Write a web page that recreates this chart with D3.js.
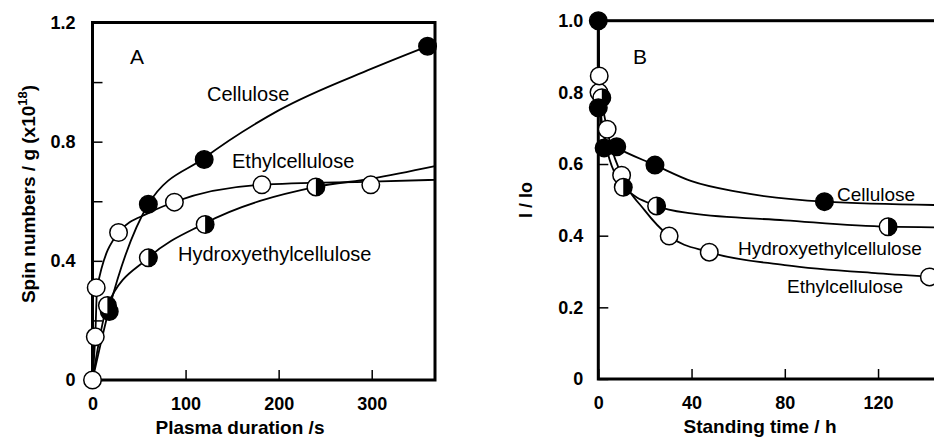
<!DOCTYPE html>
<html lang="en">
<head>
<meta charset="UTF-8">
<script src="https://d3js.org/d3.v7.min.js"></script>
<title>Spin numbers and I/Io</title>
<style>
    body { margin: 0; background: white; }
    svg { display: block; font-family: "Liberation Sans", Arial, Helvetica, sans-serif; }
    .tick text { font-size: 18px; font-weight: bold; fill: black; }
    .tick line { stroke: black; stroke-width: 1.5px; }
    .title { font-size: 19px; font-weight: bold; }
    .curve-label { font-size: 20px; }
</style>
</head>
<body>
<div id="chart"></div>
<script>
    /*------------------- Data -------------------------------------------*/
    // Panel A: spin numbers vs plasma duration (s)
    const aCellulose = [[18, 0.23], [60, 0.59], [120, 0.74], [360, 1.12]];
    const aHydroxy = [[16, 0.25], [60, 0.41], [121, 0.522], [240, 0.648]];
    const aEthyl = [[0, 0], [3, 0.145], [4, 0.31], [28, 0.495], [88, 0.597], [182, 0.655], [299, 0.655]];
    // fitted curves in panel A
    const aCelluloseFit = [[0, 0], [18, 0.24], [60, 0.59], [120, 0.745], [200, 0.905], [300, 1.045], [368, 1.13]];
    const aEthylFit = [[0, 0], [3, 0.15], [5, 0.31], [28, 0.495], [60, 0.56], [90, 0.6], [180, 0.655], [300, 0.666], [368, 0.672]];
    const aHydroxyFit = [[0, 0], [16, 0.25], [60, 0.41], [120, 0.525], [240, 0.648], [300, 0.676], [368, 0.718]];

    // Panel B: I/Io vs standing time (h)
    const bCellulose = [[0, 1.0], [2.5, 0.645], [7.9, 0.648], [24.3, 0.597], [97, 0.495], [0, 0.757]];
    const bHydroxy = [[1.5, 0.785], [10.7, 0.535], [25, 0.483], [124.3, 0.425]];
    const bEthyl = [[0.3, 0.8], [0.4, 0.846], [3.8, 0.697], [10, 0.569], [30.4, 0.399], [47.6, 0.354], [142, 0.285]];
    // fitted curves in panel B
    const bCelluloseFit = [[0, 1.0], [0.3, 0.8], [1.5, 0.7], [4, 0.66], [8, 0.645], [24.3, 0.597], [40, 0.552], [60, 0.522], [97, 0.495], [150, 0.485]];
    const bHydroxyFit = [[0, 1.0], [0.4, 0.8], [3, 0.66], [10.7, 0.54], [25, 0.483], [40, 0.462], [80, 0.443], [124.3, 0.425], [150, 0.423]];
    const bEthylFit = [[0, 1.0], [0.4, 0.846], [3.8, 0.697], [10, 0.569], [20, 0.47], [30.4, 0.399], [47.6, 0.354], [80, 0.318], [120, 0.295], [150, 0.283]];

    // ticks
    const aXTicks = [0, 100, 200, 300];
    const aYTicks = [0, 0.2, 0.4, 0.6, 0.8, 1.0, 1.2];
    const aYLabels = ["0", "", "0.4", "", "0.8", "", "1.2"];
    const bXTicks = [0, 40, 80, 120];
    const bYTicks = [0, 0.2, 0.4, 0.6, 0.8, 1.0];
    const bYLabels = ["0", "0.2", "0.4", "0.6", "0.8", "1.0"];

    /*------------------- Setup --------------------*/
    const width = 934, height = 439;
    const svg = d3.select("#chart").append("svg")
        .attr("width", width)
        .attr("height", height);

    const R = 9.5;
    const halfArc = d3.arc().innerRadius(0).outerRadius(R - 0.5).startAngle(0).endAngle(Math.PI);

    function drawPanel(opt) {
        const g = svg.append("g");
        const x = opt.x, y = opt.y;

        const line = d3.line()
            .x(d => x(d[0]))
            .y(d => y(d[1]))
            .curve(d3.curveMonotoneX);

        // axes with inward ticks
        g.append("g")
            .attr("transform", `translate(0,${y.range()[0]})`)
            .call(d3.axisBottom(x).tickValues(opt.xTicks).tickSize(-10).tickPadding(17))
            .call(a => a.select(".domain").remove());
        g.append("g")
            .attr("transform", `translate(${x.range()[0]},0)`)
            .call(d3.axisLeft(y).tickValues(opt.yTicks).tickSize(-10).tickPadding(opt.yPad)
                .tickFormat((d, i) => opt.yLabels[i]))
            .call(a => a.select(".domain").remove());

        // frame
        g.append("rect")
            .attr("x", x.range()[0])
            .attr("y", y.range()[1])
            .attr("width", x(opt.xFrameMax) - x.range()[0])
            .attr("height", y.range()[0] - y.range()[1])
            .attr("fill", "none")
            .attr("stroke", "black")
            .attr("stroke-width", 3);

        // fitted curves
        g.selectAll("path.fit")
            .data(opt.fits)
            .enter()
            .append("path")
            .attr("class", "fit")
            .attr("d", d => line(d))
            .attr("fill", "none")
            .attr("stroke", "black")
            .attr("stroke-width", 1.8);

        // markers
        opt.series.forEach(s => {
            const m = g.append("g").selectAll("g")
                .data(s.points)
                .enter()
                .append("g")
                .attr("transform", d => `translate(${x(d[0])},${y(d[1])})`);
            m.append("circle")
                .attr("r", R - 0.75)
                .attr("fill", s.type === "filled" ? "black" : "white")
                .attr("stroke", "black")
                .attr("stroke-width", 1.5);
            if (s.type === "half") {
                m.append("path")
                    .attr("d", halfArc())
                    .attr("fill", "black");
            }
        });

        // panel letter
        g.append("text")
            .attr("x", opt.letter[1])
            .attr("y", opt.letter[2])
            .attr("text-anchor", "middle")
            .style("font-size", "21px")
            .text(opt.letter[0]);

        // curve labels
        g.selectAll("text.curve-label")
            .data(opt.labels)
            .enter()
            .append("text")
            .attr("class", "curve-label")
            .attr("x", d => d[1])
            .attr("y", d => d[2])
            .style("font-size", opt.labelSize)
            .text(d => d[0]);

        // x title
        g.append("text")
            .attr("class", "title")
            .attr("x", opt.xTitle[1])
            .attr("y", opt.xTitle[2])
            .attr("text-anchor", "middle")
            .text(opt.xTitle[0]);

        return g;
    }

    /*------------------- Panel A --------------------*/
    const xA = d3.scaleLinear().domain([0, 368]).range([92.5, 435]);
    const yA = d3.scaleLinear().domain([0, 1.2]).range([380, 22.5]);

    drawPanel({
        x: xA, y: yA, xFrameMax: 368,
        xTicks: aXTicks, yTicks: aYTicks, yLabels: aYLabels, yPad: 17,
        fits: [aCelluloseFit, aEthylFit, aHydroxyFit],
        series: [
            { type: "filled", points: aCellulose },
            { type: "half", points: aHydroxy },
            { type: "open", points: aEthyl }
        ],
        letter: ["A", 137, 64],
        labels: [["Cellulose", 207, 101], ["Ethylcellulose", 232, 168], ["Hydroxyethylcellulose", 178, 261]],
        labelSize: "20px",
        xTitle: ["Plasma duration /s", 240, 434]
    });

    const yTitleA = svg.append("text")
        .attr("class", "title")
        .attr("transform", "translate(35,194) rotate(-90)")
        .attr("text-anchor", "middle");
    yTitleA.append("tspan").text("Spin numbers / g (x10");
    yTitleA.append("tspan").attr("dy", -8).style("font-size", "13px").text("18");
    yTitleA.append("tspan").attr("dy", 8).text(")");

    /*------------------- Panel B --------------------*/
    const xB = d3.scaleLinear().domain([0, 144]).range([598.3, 934]);
    const yB = d3.scaleLinear().domain([0, 1.0]).range([379, 20.7]);

    drawPanel({
        x: xB, y: yB, xFrameMax: 160,
        xTicks: bXTicks, yTicks: bYTicks, yLabels: bYLabels, yPad: 15,
        fits: [bCelluloseFit, bHydroxyFit, bEthylFit],
        series: [
            { type: "open", points: bEthyl.slice(0, 1) },
            { type: "half", points: bHydroxy.slice(0, 1) },
            { type: "filled", points: bCellulose },
            { type: "open", points: bEthyl.slice(1) },
            { type: "half", points: bHydroxy.slice(1) }
        ],
        letter: ["B", 640, 64],
        labels: [["Cellulose", 837, 201], ["Hydroxyethylcellulose", 738, 255], ["Ethylcellulose", 787, 293]],
        labelSize: "19px",
        xTitle: ["Standing time / h", 760, 433]
    });

    svg.append("text")
        .attr("class", "title")
        .attr("transform", "translate(532,200) rotate(-90)")
        .attr("text-anchor", "middle")
        .style("font-size", "18px")
        .text("I / Io");
</script>
</body>
</html>
